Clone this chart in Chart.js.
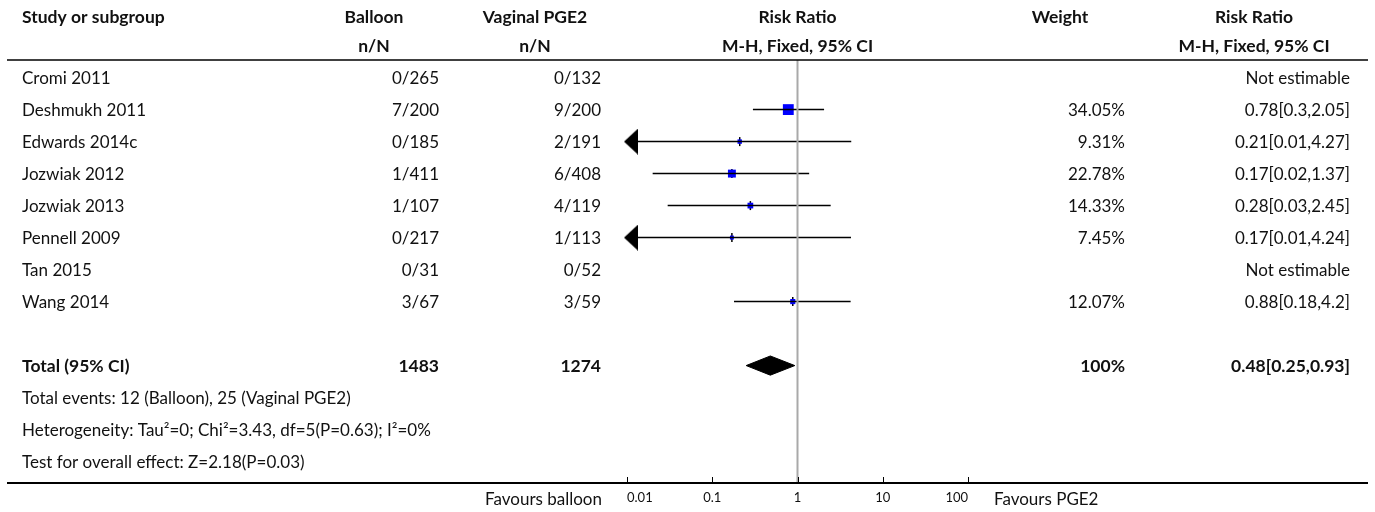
<!DOCTYPE html>
<html>
<head>
<meta charset="utf-8">
<title>Forest plot</title>
<script src="https://cdn.jsdelivr.net/npm/chart.js@4.4.1/dist/chart.umd.min.js"></script>
<style>
  html, body { margin: 0; padding: 0; background: #fff; }
  canvas { display: block; }
</style>
</head>
<body>
<canvas id="forest" width="1375" height="512"></canvas>
<script>
// study rows
const studies = ['Cromi 2011', 'Deshmukh 2011', 'Edwards 2014c', 'Jozwiak 2012', 'Jozwiak 2013', 'Pennell 2009', 'Tan 2015', 'Wang 2014'];
const balloonEvents = [0, 7, 0, 1, 1, 0, 0, 3];
const balloonTotals = [265, 200, 185, 411, 107, 217, 31, 67];
const pgeEvents = [0, 9, 2, 6, 4, 1, 0, 3];
const pgeTotals = [132, 200, 191, 408, 119, 113, 52, 59];
const weights = [null, 34.05, 9.31, 22.78, 14.33, 7.45, null, 12.07];
const riskRatios = [null, 0.78, 0.21, 0.17, 0.28, 0.17, null, 0.88];
const ciLow = [null, 0.3, 0.01, 0.02, 0.03, 0.01, null, 0.18];
const ciHigh = [null, 2.05, 4.27, 1.37, 2.45, 4.24, null, 4.2];

// pooled result
const pooledRR = 0.48;
const pooledLow = 0.25;
const pooledHigh = 0.93;
const pooledWeight = 100;

const xTicks = [0.01, 0.1, 1, 10, 100];
const heterogeneity = 'Heterogeneity: Tau\u00b2=0; Chi\u00b2=3.43, df=5(P=0.63); I\u00b2=0%';
const overallEffect = 'Test for overall effect: Z=2.18(P=0.03)';

const X_MIN = 0.01, X_MAX = 100;
const Y_MIN = -0.55, Y_MAX = 12.67;
const TOTAL_ROW = studies.length + 1;

const sum = a => a.reduce((s, v) => s + v, 0);
const FONT = 'Lato, "Noto Sans", sans-serif';

// left-pointing arrow used when the CI runs off the scale
const arrow = document.createElement('canvas');
arrow.width = 22;
arrow.height = 26;
(function () {
  const c = arrow.getContext('2d');
  c.fillStyle = '#000';
  c.beginPath();
  c.moveTo(8, 13);
  c.lineTo(22, 0);
  c.lineTo(22, 26);
  c.closePath();
  c.fill();
})();

const rows = studies.map((s, i) => i).filter(i => riskRatios[i] != null);

const datasets = [];
// line of no effect
datasets.push({
  data: [{ x: 1, y: Y_MIN }, { x: 1, y: Y_MAX }],
  showLine: true, borderColor: '#a9a9a9', borderWidth: 2, pointRadius: 0
});
// confidence intervals
rows.forEach(i => {
  datasets.push({
    data: [{ x: ciLow[i], y: i }, { x: ciHigh[i], y: i }],
    showLine: true, borderColor: '#000', borderWidth: 1.5, pointRadius: 0
  });
});
// arrows for truncated intervals
datasets.push({
  data: rows.filter(i => ciLow[i] <= X_MIN).map(i => ({ x: X_MIN, y: i })),
  pointStyle: arrow, pointRadius: 13, clip: false
});
// weighted squares
datasets.push({
  data: rows.map(i => ({ x: riskRatios[i], y: i })),
  pointStyle: 'rect',
  pointRadius: rows.map(i => (2 + weights[i] * 0.26) / Math.SQRT2),
  backgroundColor: '#0000ff', borderColor: '#0000ff', borderWidth: 0
});
// point estimate marks
datasets.push({
  data: rows.map(i => ({ x: riskRatios[i], y: i })),
  pointStyle: 'line', pointRotation: 90, pointRadius: 4.5,
  borderColor: '#000', borderWidth: 1.5
});
// pooled diamond
datasets.push({
  data: [
    { x: pooledLow, y: TOTAL_ROW },
    { x: pooledRR, y: TOTAL_ROW - 0.3 },
    { x: pooledHigh, y: TOTAL_ROW },
    { x: pooledRR, y: TOTAL_ROW + 0.3 },
    { x: pooledLow, y: TOTAL_ROW }
  ],
  showLine: true, fill: 'shape', tension: 0,
  backgroundColor: '#000', borderColor: '#000', borderWidth: 1, pointRadius: 0
});

const tablePlugin = {
  id: 'table',
  afterDraw(chart) {
    const ctx = chart.ctx;
    const x = chart.scales.x, y = chart.scales.y;
    const area = chart.chartArea;
    const plotC = (area.left + area.right) / 2;
    const col = { study: 22, balloonR: 439, balloonC: 374, pgeR: 601, pgeC: 535, weightR: 1125, weightC: 1060, rrR: 1350, rrC: 1254 };

    ctx.save();
    ctx.fillStyle = '#111';
    ctx.textBaseline = 'middle';
    const text = (t, px, py, align, bold) => {
      ctx.font = bold ? 'bold 17.5px ' + FONT : '17px ' + FONT;
      ctx.textAlign = align;
      ctx.fillText(t, px, py + 1);
    };

    // header
    const h1 = y.getPixelForValue(-1.9), h2 = y.getPixelForValue(-1);
    text('Study or subgroup', col.study, h1, 'left', true);
    text('Balloon', col.balloonC, h1, 'center', true);
    text('n/N', col.balloonC, h2, 'center', true);
    text('Vaginal PGE2', col.pgeC, h1, 'center', true);
    text('n/N', col.pgeC, h2, 'center', true);
    text('Risk Ratio', plotC, h1, 'center', true);
    text('M-H, Fixed, 95% CI', plotC, h2, 'center', true);
    text('Weight', col.weightC, h1, 'center', true);
    text('Risk Ratio', col.rrC, h1, 'center', true);
    text('M-H, Fixed, 95% CI', col.rrC, h2, 'center', true);

    // studies
    studies.forEach((s, i) => {
      const py = y.getPixelForValue(i);
      text(s, col.study, py, 'left');
      text(balloonEvents[i] + '/' + balloonTotals[i], col.balloonR, py, 'right');
      text(pgeEvents[i] + '/' + pgeTotals[i], col.pgeR, py, 'right');
      if (riskRatios[i] == null) {
        text('Not estimable', col.rrR, py, 'right');
      } else {
        text(weights[i] + '%', col.weightR, py, 'right');
        text(riskRatios[i] + '[' + ciLow[i] + ',' + ciHigh[i] + ']', col.rrR, py, 'right');
      }
    });

    // total
    const ty = y.getPixelForValue(TOTAL_ROW);
    text('Total (95% CI)', col.study, ty, 'left', true);
    text(String(sum(balloonTotals)), col.balloonR, ty, 'right', true);
    text(String(sum(pgeTotals)), col.pgeR, ty, 'right', true);
    text(pooledWeight + '%', col.weightR, ty, 'right', true);
    text(pooledRR + '[' + pooledLow + ',' + pooledHigh + ']', col.rrR, ty, 'right', true);

    text('Total events: ' + sum(balloonEvents) + ' (Balloon), ' + sum(pgeEvents) + ' (Vaginal PGE2)', col.study, y.getPixelForValue(TOTAL_ROW + 1), 'left');
    text(heterogeneity, col.study, y.getPixelForValue(TOTAL_ROW + 2), 'left');
    text(overallEffect, col.study, y.getPixelForValue(TOTAL_ROW + 3), 'left');

    // favours labels
    const fy = area.bottom + 16;
    text('Favours balloon', area.left - 25, fy, 'right');
    text('Favours PGE2', area.right + 26, fy, 'left');

    // rules
    ctx.strokeStyle = '#000';
    ctx.lineWidth = 1.5;
    ctx.beginPath();
    ctx.moveTo(7, area.top);
    ctx.lineTo(1368, area.top);
    ctx.stroke();
    ctx.lineWidth = 2;
    ctx.beginPath();
    ctx.moveTo(7, area.bottom);
    ctx.lineTo(1368, area.bottom);
    ctx.stroke();

    // tick marks pointing up
    ctx.lineWidth = 1;
    xTicks.forEach(v => {
      const px = Math.round(x.getPixelForValue(v)) + 0.5;
      ctx.beginPath();
      ctx.moveTo(px, area.bottom);
      ctx.lineTo(px, area.bottom - 6);
      ctx.stroke();
    });
    ctx.restore();
  }
};

new Chart(document.getElementById('forest'), {
  type: 'scatter',
  data: { datasets },
  options: {
    responsive: false,
    animation: false,
    events: [],
    layout: { padding: { left: 627, right: 407, top: 60, bottom: 0 } },
    plugins: { legend: { display: false }, tooltip: { enabled: false } },
    scales: {
      x: {
        type: 'logarithmic',
        min: X_MIN,
        max: X_MAX,
        afterBuildTicks: s => { s.ticks = xTicks.map(v => ({ value: v })); },
        afterFit: s => { s.height = 29; },
        grid: { display: false, drawTicks: false, tickLength: 0 },
        border: { display: false },
        ticks: {
          autoSkip: false,
          maxRotation: 0,
          align: 'inner',
          padding: 7,
          color: '#111',
          font: { family: FONT, size: 13 },
          callback: v => String(v)
        }
      },
      y: {
        type: 'linear',
        display: false,
        reverse: true,
        min: Y_MIN,
        max: Y_MAX
      }
    }
  },
  plugins: [tablePlugin]
});
</script>
</body>
</html>
